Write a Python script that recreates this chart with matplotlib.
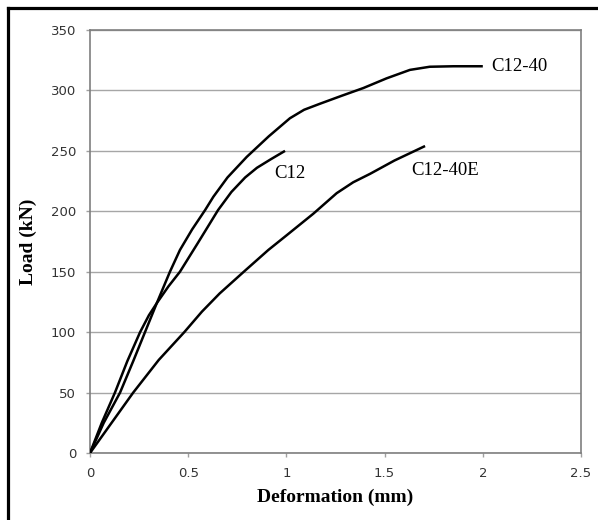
import matplotlib.pyplot as plt
from matplotlib.lines import Line2D

# Load-deformation curves
c12_x = [0, 0.06, 0.127, 0.19, 0.255, 0.30, 0.34, 0.40, 0.458, 0.55, 0.652, 0.72, 0.79, 0.85, 0.92, 0.993]
c12_y = [0, 25, 50, 76, 100, 114, 124, 138, 150, 174, 201, 216, 228, 236, 243, 250]

c1240_x = [0, 0.07, 0.153, 0.22, 0.28, 0.34, 0.407, 0.458, 0.52, 0.586, 0.628, 0.70, 0.798, 0.91, 1.018, 1.09,
           1.171, 1.28, 1.392, 1.51, 1.629, 1.73, 1.85, 2.0]
c1240_y = [0, 25, 50, 76, 100, 124, 150, 168, 185, 201, 212, 228, 245, 262, 277, 284,
           289, 295.5, 302, 310, 317, 319.6, 320, 320]

c1240e_x = [0, 0.11, 0.22, 0.35, 0.48, 0.57, 0.66, 0.79, 0.908, 1.0, 1.137, 1.256, 1.34, 1.426, 1.55, 1.706]
c1240e_y = [0, 25, 50, 77, 100, 117, 132, 151, 168, 180, 198, 215, 224, 231, 242, 254]

labels = ['C12', 'C12-40', 'C12-40E']
label_pos = [(0.937, 231.4), (2.045, 320), (1.634, 234)]

fig = plt.figure(figsize=(5.98, 5.20), dpi=100)
ax = fig.add_axes([0.1505, 0.1288, 0.8211, 0.8135])

for xs, ys in [(c12_x, c12_y), (c1240_x, c1240_y), (c1240e_x, c1240e_y)]:
    ax.plot(xs, ys, color='black', lw=1.8, solid_joinstyle='round', solid_capstyle='butt', zorder=3)

for txt, (tx, ty) in zip(labels, label_pos):
    ax.text(tx, ty, txt, fontsize=13.5, family='Liberation Serif', va='center', ha='left')

ax.set_xlim(0, 2.5)
ax.set_ylim(0, 350)
ax.set_xticks([0, 0.5, 1, 1.5, 2, 2.5])
ax.set_xticklabels(['0', '0.5', '1', '1.5', '2', '2.5'])
ax.set_yticks(range(0, 351, 50))
ax.yaxis.grid(True, color='#a6a6a6', lw=1)
ax.set_axisbelow(True)

for s in ax.spines.values():
    s.set_color('#7f7f7f')
    s.set_linewidth(1.2)

ax.tick_params(axis='both', colors='#a0a0a0', labelcolor='#333333', labelsize=9.5, length=3, width=1)
ax.tick_params(axis='x', pad=7)
ax.tick_params(axis='y', pad=7)

ax.set_xlabel('Deformation (mm)', family='Liberation Serif', fontweight='bold', fontsize=14, labelpad=6)
ax.set_ylabel('Load (kN)', family='Liberation Serif', fontweight='bold', fontsize=14, labelpad=10)

# outer frame (left and top edges visible)
fig.add_artist(Line2D([7.5 / 598, 7.5 / 598], [0, 1 - 7.5 / 520], transform=fig.transFigure, color='black', lw=2.3))
fig.add_artist(Line2D([7.5 / 598, 1], [1 - 7.5 / 520, 1 - 7.5 / 520], transform=fig.transFigure, color='black', lw=2.3))

fig.savefig('out.png', dpi=100)
